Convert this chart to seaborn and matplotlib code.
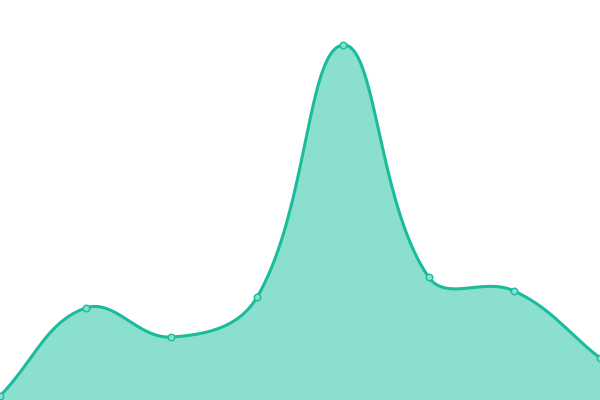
import matplotlib
matplotlib.use("Agg")
import matplotlib.pyplot as plt
import seaborn as sns
import numpy as np
import pandas as pd

# values (pixel height from bottom edge)
xs = [0, 1, 2, 3, 4, 5, 6, 7]
vals = [4, 92, 63, 103, 355, 123, 109, 42]

line_col = "#1abc9c"
fill_col = "#8adfcf"

W, H = 600, 400

def smooth_path(x, y, tension=0.4, n=40):
    # bezier smoothing through the points (pixel space), only used to draw the line
    px = np.asarray(x, float) * W / (len(x) - 1)
    py = np.asarray(y, float)
    m = len(px)
    cp_in = [None] * m
    cp_out = [None] * m
    for i in range(m):
        prev = (px[max(i - 1, 0)], py[max(i - 1, 0)])
        nxt = (px[min(i + 1, m - 1)], py[min(i + 1, m - 1)])
        vx, vy = nxt[0] - prev[0], nxt[1] - prev[1]
        l0 = np.hypot(px[i] - prev[0], py[i] - prev[1])
        l1 = np.hypot(nxt[0] - px[i], nxt[1] - py[i])
        fa = tension * l0 / (l0 + l1)
        fb = tension * l1 / (l0 + l1)
        cp_in[i] = (px[i] - vx * fa, py[i] - vy * fa)
        cp_out[i] = (px[i] + vx * fb, py[i] + vy * fb)
    t = np.linspace(0, 1, n, endpoint=False)[:, None]
    segs = []
    for i in range(m - 1):
        p0 = np.array([px[i], py[i]])
        p1 = np.array(cp_out[i])
        p2 = np.array(cp_in[i + 1])
        p3 = np.array([px[i + 1], py[i + 1]])
        segs.append((1 - t) ** 3 * p0 + 3 * (1 - t) ** 2 * t * p1 + 3 * (1 - t) * t ** 2 * p2 + t ** 3 * p3)
    segs.append(np.array([[px[-1], py[-1]]]))
    pts = np.vstack(segs)
    return pts[:, 0] * (len(x) - 1) / W, pts[:, 1]

sx, sy = smooth_path(xs, vals)
df = pd.DataFrame({"x": xs, "v": vals})

sns.set_style("white")
fig = plt.figure(figsize=(6, 4), dpi=100)
ax = fig.add_axes([0, 0, 1, 1])
ax.fill_between(sx, 0, sy, color=fill_col, lw=0)
ax.plot(sx, sy, color=line_col, lw=2.2, solid_capstyle="round")
sns.scatterplot(data=df, x="x", y="v", ax=ax, s=22, color=fill_col,
                edgecolor=line_col, linewidth=1.0, zorder=5, clip_on=False)
ax.set_xlim(0, 7)
ax.set_ylim(0, H)
ax.axis("off")
fig.savefig("out.png", dpi=100)
